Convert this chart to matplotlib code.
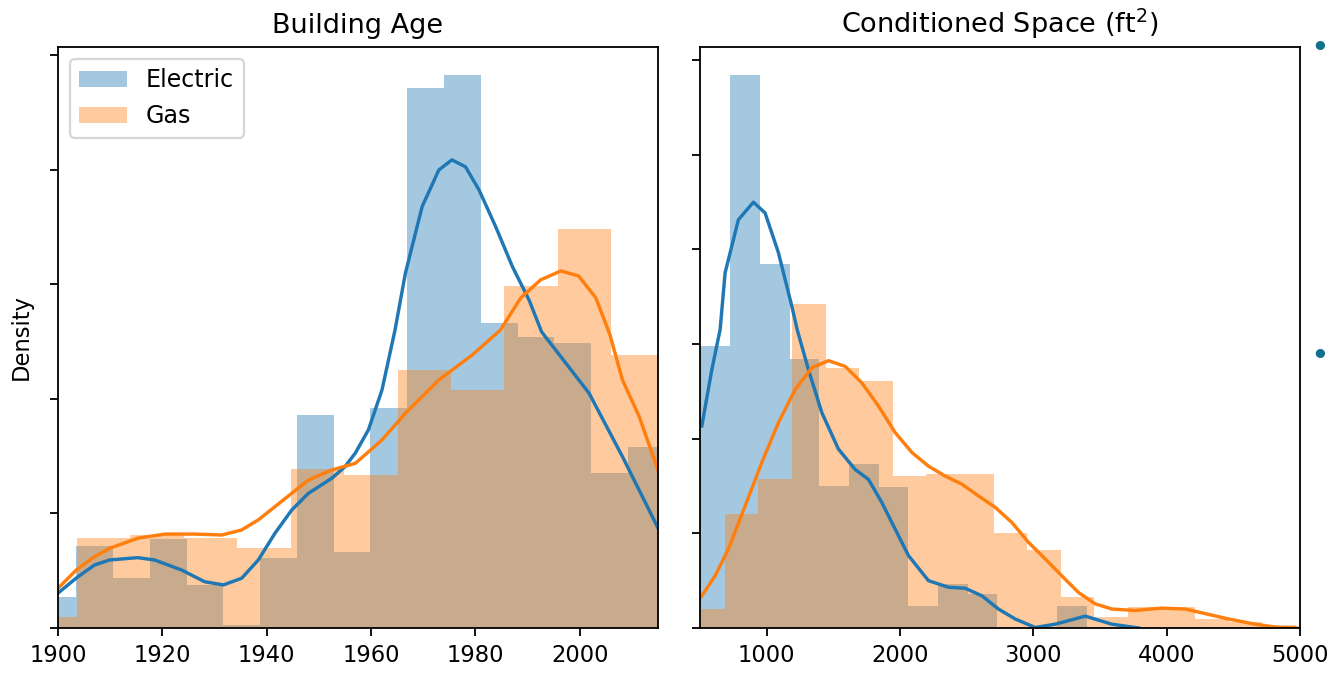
import matplotlib
matplotlib.use("Agg")
import matplotlib.pyplot as plt
import numpy as np

# ---- Building Age (left panel) ----
age_elec_edges = np.linspace(1896.45, 2016.3, 18)
age_elec_dens = np.array([1.37, 3.58, 2.17, 3.87, 1.88, 0.13, 3.04, 9.30, 3.33, 9.59,
                          23.57, 24.15, 13.31, 12.72, 12.43, 6.76, 7.92]) * 1e-3
age_gas_edges = np.linspace(1893.4, 2016.3, 13)
age_gas_dens = np.array([0.49, 3.93, 4.06, 3.93, 3.48, 6.95, 6.68, 11.27, 10.39,
                         14.94, 17.41, 11.92]) * 1e-3

age_kde_elec_x = [1900.0, 1903.5, 1907.0, 1909.9, 1915.3, 1918.5, 1923.7, 1928.1, 1931.7,
                  1935.2, 1938.4, 1941.6, 1944.8, 1948.0, 1952.5, 1955.0, 1957.0, 1959.5,
                  1962.1, 1964.6, 1966.6, 1969.8, 1973.0, 1975.5, 1978.1, 1980.7, 1983.9,
                  1987.1, 1990.3, 1992.7, 2001.8, 2008.2, 2015.0]
age_kde_elec_y = np.array([1.52, 2.18, 2.75, 2.97, 3.07, 2.97, 2.53, 2.02, 1.88,
                           2.17, 2.97, 4.14, 5.15, 5.88, 6.54, 7.04, 7.64, 8.65,
                           10.39, 13.01, 15.50, 18.40, 20.00, 20.44, 20.14, 19.13, 17.52,
                           15.78, 14.32, 12.93, 10.25, 7.48, 4.37]) * 1e-3
age_kde_gas_x = [1900.0, 1903.5, 1907.0, 1909.9, 1915.3, 1920.5, 1926.2, 1931.4, 1935.2,
                 1938.4, 1941.6, 1944.8, 1948.0, 1952.5, 1957.0, 1962.1, 1966.6, 1973.0,
                 1979.4, 1984.8, 1988.7, 1992.5, 1996.4, 1999.8, 2003.1, 2005.8, 2008.2,
                 2011.4, 2015.0]
age_kde_gas_y = np.array([1.73, 2.53, 3.11, 3.48, 3.92, 4.10, 4.10, 4.06, 4.28,
                          4.72, 5.30, 5.88, 6.46, 6.90, 7.19, 8.21, 9.38, 10.83,
                          11.92, 13.01, 14.41, 15.20, 15.59, 15.37, 14.41, 12.80, 10.83,
                          9.23, 6.90]) * 1e-3

# ---- Conditioned Space (right panel) ----
area_elec_edges = np.linspace(503.4, 3399.8, 14)
area_elec_dens = np.array([5.96, 11.69, 7.70, 5.68, 3.00, 3.46, 2.97, 0.47, 0.93, 0.72,
                           0.0, 0.0, 0.47]) * 1e-4
area_gas_edges = np.linspace(434, 4970, 19)
area_gas_dens = np.array([0.40, 2.41, 3.14, 6.84, 5.50, 5.22, 3.21, 3.25, 3.25, 2.00,
                          1.65, 0.65, 0.23, 0.44, 0.44, 0.19, 0.13, 0.06]) * 1e-4

area_kde_elec_x = [513.9, 588.9, 651.2, 688.7, 788.4, 901.0, 988.7, 1088.5, 1189.0, 1228.8,
                   1313.6, 1414.1, 1538.6, 1663.9, 1763.7, 1864.2, 1964.0, 2063.8, 2213.8,
                   2363.9, 2489.1, 2614.4, 2739.0, 2864.2, 3014.3, 3164.3, 3389.4, 3589.7,
                   3789.2]
area_kde_elec_y = np.array([4.27, 5.46, 6.31, 7.51, 8.63, 9.00, 8.77, 7.93, 6.80, 6.31,
                            5.46, 4.55, 3.78, 3.35, 3.14, 2.65, 2.09, 1.53, 1.00,
                            0.86, 0.84, 0.68, 0.40, 0.19, 0.01, 0.08, 0.25, 0.08,
                            0.0]) * 1e-4
area_kde_gas_x = [506.4, 613.6, 713.4, 838.7, 964.0, 1088.5, 1213.8, 1339.1, 1463.6, 1588.9,
                  1714.2, 1838.7, 1964.0, 2089.3, 2213.8, 2339.1, 2464.4, 2588.9, 2714.2,
                  2839.5, 2964.0, 3089.3, 3214.6, 3339.1, 3464.4, 3589.7, 3764.5, 3964.8,
                  4139.6, 4264.9, 4464.4, 4664.7, 4839.5, 4977.5]
area_kde_gas_y = np.array([0.65, 1.10, 1.67, 2.58, 3.50, 4.34, 5.04, 5.50, 5.65, 5.53,
                           5.18, 4.69, 4.13, 3.71, 3.42, 3.21, 3.04, 2.79, 2.55,
                           2.23, 1.81, 1.46, 1.10, 0.75, 0.51, 0.40, 0.37, 0.42,
                           0.40, 0.32, 0.19, 0.08, 0.01, 0.0]) * 1e-4


def draw_panel(ax, e_edges, e_dens, e_kx, e_ky, g_edges, g_dens, g_kx, g_ky):
    # same order as two distplot calls: electric first, gas on top
    ax.bar(e_edges[:-1], e_dens, width=np.diff(e_edges), align='edge',
           color='C0', alpha=0.4, linewidth=0, label='Electric')
    ax.plot(e_kx, e_ky, color='C0', lw=1.5, solid_joinstyle='round')
    ax.bar(g_edges[:-1], g_dens, width=np.diff(g_edges), align='edge',
           color='C1', alpha=0.4, linewidth=0, label='Gas')
    ax.plot(g_kx, g_ky, color='C1', lw=1.5, solid_joinstyle='round')


fig = plt.figure(figsize=(1330 / 163, 673 / 163), dpi=163)
ax1 = fig.add_axes([0.0436, 0.0669, 0.4511, 0.8633])
ax2 = fig.add_axes([0.5263, 0.0669, 0.4511, 0.8633])

draw_panel(ax1, age_elec_edges, age_elec_dens, age_kde_elec_x, age_kde_elec_y,
           age_gas_edges, age_gas_dens, age_kde_gas_x, age_kde_gas_y)
ax1.set_xlim(1900, 2015)
ax1.set_ylim(0, 0.02537)
ax1.set_xticks([1900, 1920, 1940, 1960, 1980, 2000])
ax1.set_yticks(np.arange(0, 0.0251, 0.005))
ax1.set_yticklabels([])
ax1.set_ylabel('Density')
ax1.set_title('Building Age')
ax1.legend(loc='upper left', fontsize=10.5)

draw_panel(ax2, area_elec_edges, area_elec_dens, area_kde_elec_x, area_kde_elec_y,
           area_gas_edges, area_gas_dens, area_kde_gas_x, area_kde_gas_y)
ax2.set_xlim(500, 5000)
ax2.set_ylim(0, 0.001228)
ax2.set_xticks([1000, 2000, 3000, 4000, 5000])
ax2.set_yticks(np.arange(0, 0.00121, 0.0002))
ax2.set_yticklabels([])
ax2.set_title('Conditioned Space (ft$^2$)')

# bullet marks from the slide at the right edge
for yy in [48, 357]:
    fig.text(1320 / 1330, 1 - yy / 673, '\u2022', color='#12708f', fontsize=14,
             ha='center', va='center')

fig.savefig('out.png', dpi=163)
